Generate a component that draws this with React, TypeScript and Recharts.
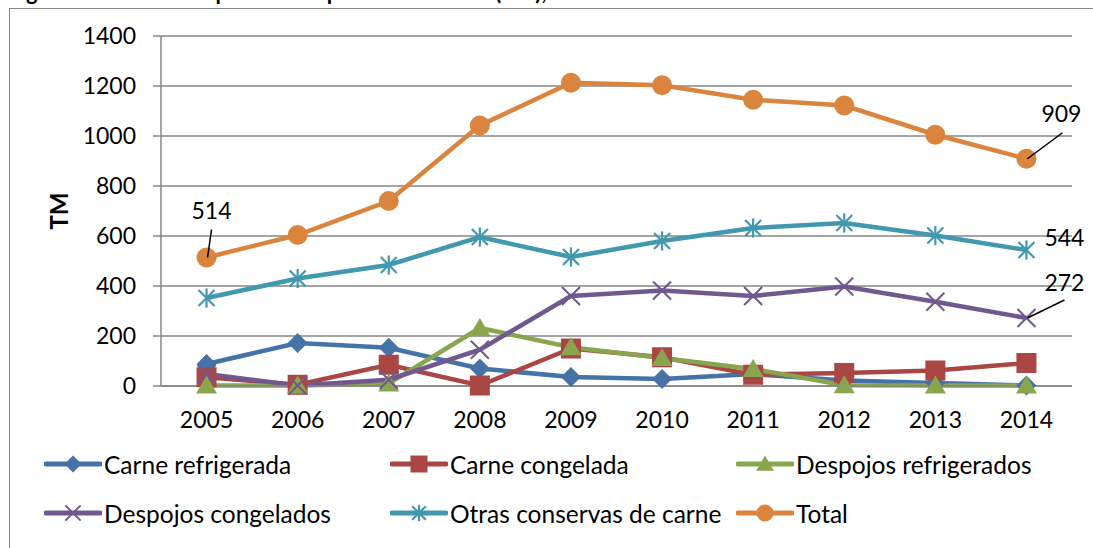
import React from 'react';
import { LineChart, Line, XAxis, YAxis, CartesianGrid, LabelList } from 'recharts';

const years = ['2005', '2006', '2007', '2008', '2009', '2010', '2011', '2012', '2013', '2014'];
const yTicks = [0, 200, 400, 600, 800, 1000, 1200, 1400];

const carneRefrigerada = [88, 172, 153, 70, 36, 28, 48, 22, 12, 2];
const carneCongelada = [35, 5, 85, 2, 150, 115, 45, 52, 62, 92];
const despojosRefrigerados = [2, 2, 10, 232, 155, 112, 68, 3, 2, 2];
const despojosCongelados = [48, 2, 25, 145, 360, 382, 360, 398, 337, 272];
const otrasConservas = [352, 430, 484, 596, 516, 580, 632, 652, 602, 544];
const total = [514, 604, 740, 1042, 1213, 1203, 1145, 1122, 1005, 909];

const FONT = 'Lato, "Open Sans", sans-serif';
const GRID = '#868686';

const data = years.map((y, i) => ({
  idx: i,
  year: y,
  cr: carneRefrigerada[i],
  cc: carneCongelada[i],
  dr: despojosRefrigerados[i],
  dc: despojosCongelados[i],
  oc: otrasConservas[i],
  tot: total[i],
}));

const boundaryTicks = [...years.map((_, i) => i - 0.5), years.length - 0.5];
const centerTicks = years.map((_, i) => i);

type MarkerKind = 'diamond' | 'square' | 'triangle' | 'x' | 'star' | 'circle';

function Marker({ kind, cx, cy, color, s = 1 }: { kind: MarkerKind; cx: number; cy: number; color: string; s?: number }) {
  if (cx == null || cy == null || isNaN(cx) || isNaN(cy)) return null;
  const r = 10 * s;
  switch (kind) {
    case 'diamond':
      return <polygon points={`${cx},${cy - r} ${cx + r},${cy} ${cx},${cy + r} ${cx - r},${cy}`} fill={color} />;
    case 'square':
      return <rect x={cx - r} y={cy - r} width={2 * r} height={2 * r} fill={color} />;
    case 'triangle':
      return <polygon points={`${cx},${cy - r} ${cx + r * 1.05},${cy + r * 0.8} ${cx - r * 1.05},${cy + r * 0.8}`} fill={color} />;
    case 'x': {
      const d = 9 * s;
      return (
        <g stroke={color} strokeWidth={2}>
          <line x1={cx - d} y1={cy - d} x2={cx + d} y2={cy + d} />
          <line x1={cx - d} y1={cy + d} x2={cx + d} y2={cy - d} />
        </g>
      );
    }
    case 'star': {
      const d = 8 * s;
      return (
        <g stroke={color} strokeWidth={2.2}>
          <line x1={cx - d} y1={cy - d} x2={cx + d} y2={cy + d} />
          <line x1={cx - d} y1={cy + d} x2={cx + d} y2={cy - d} />
          <line x1={cx} y1={cy - d * 1.2} x2={cx} y2={cy + d * 1.2} />
        </g>
      );
    }
    case 'circle':
      return <circle cx={cx} cy={cy} r={r} fill={color} />;
  }
  return null;
}

const series: { key: string; name: string; color: string; marker: MarkerKind }[] = [
  { key: 'cr', name: 'Carne refrigerada', color: '#4572A7', marker: 'diamond' },
  { key: 'cc', name: 'Carne congelada', color: '#AA4643', marker: 'square' },
  { key: 'dr', name: 'Despojos refrigerados', color: '#89A54E', marker: 'triangle' },
  { key: 'dc', name: 'Despojos congelados', color: '#71588F', marker: 'x' },
  { key: 'oc', name: 'Otras conservas de carne', color: '#4198AF', marker: 'star' },
  { key: 'tot', name: 'Total', color: '#DB843D', marker: 'circle' },
];

// data labels: which series/index, text offset and optional leader line (style only)
const annotations: Record<string, { index: number; dx: number; dy: number; leader?: [number, number] }[]> = {
  tot: [
    { index: 0, dx: 5, dy: -48, leader: [5, -28] },
    { index: 9, dx: 35, dy: -46, leader: [36, -26] },
  ],
  oc: [{ index: 9, dx: 38, dy: -13 }],
  dc: [{ index: 9, dx: 38, dy: -36, leader: [38, -18] }],
};

function makeLabel(key: string) {
  return (props: any) => {
    const { x, y, index, value } = props;
    const a = (annotations[key] || []).find((e) => e.index === index);
    if (!a) return null;
    return (
      <g key={`lab-${key}-${index}`}>
        {a.leader && (
          <line x1={x + 1} y1={y} x2={x + a.leader[0]} y2={y + a.leader[1]} stroke="#000" strokeWidth={1.5} />
        )}
        <text
          x={x + a.dx}
          y={y + a.dy}
          textAnchor="middle"
          dominantBaseline="central"
          fontFamily={FONT}
          fontSize={23}
          fill="#000"
        >
          {value}
        </text>
      </g>
    );
  };
}

function LegendItem({ s, left, top }: { s: (typeof series)[number]; left: number; top: number }) {
  return (
    <div style={{ position: 'absolute', left, top: top - 15, height: 30, display: 'flex', alignItems: 'center', whiteSpace: 'nowrap' }}>
      <svg width={58} height={30} style={{ display: 'block' }}>
        <line x1={2} y1={15} x2={56} y2={15} stroke={s.color} strokeWidth={5} strokeLinecap="round" />
        <Marker kind={s.marker} cx={29} cy={15} color={s.color} s={0.85} />
      </svg>
      <span style={{ fontFamily: FONT, fontSize: 24.5, color: '#000', marginLeft: 2 }}>{s.name}</span>
    </div>
  );
}

const legendCols = [44, 390, 736];
const legendRows = [464, 513];

export default function App() {
  return (
    <div style={{ position: 'absolute', left: 0, top: 0, width: 1093, height: 548, background: '#fff', overflow: 'hidden' }}>
      <div
        style={{
          position: 'absolute',
          left: 8,
          top: -22,
          fontFamily: FONT,
          fontWeight: 'bold',
          fontSize: 22,
          whiteSpace: 'nowrap',
          color: '#000',
        }}
      >
        Figura 3. Cantidad importada de productos de res (TM), años 2005-2014
      </div>
      <div
        style={{
          position: 'absolute',
          left: 9,
          top: 8,
          width: 1100,
          height: 560,
          borderTop: `1px solid ${GRID}`,
          borderLeft: `1px solid ${GRID}`,
        }}
      />
      <div style={{ position: 'absolute', left: 0, top: 0 }}>
        <LineChart width={1093} height={548} data={data} margin={{ top: 36, right: 21, bottom: 112, left: 0 }}>
          <CartesianGrid vertical={false} stroke={GRID} strokeWidth={1.5} />
          <XAxis
            xAxisId="grid"
            dataKey="idx"
            type="number"
            domain={[-0.5, years.length - 0.5]}
            ticks={boundaryTicks}
            interval={0}
            tick={false}
            tickSize={7}
            height={10}
            axisLine={{ stroke: GRID, strokeWidth: 1.5 }}
            tickLine={{ stroke: GRID, strokeWidth: 1.5 }}
            allowDataOverflow
          />
          <XAxis
            xAxisId="labels"
            dataKey="idx"
            type="number"
            domain={[-0.5, years.length - 0.5]}
            ticks={centerTicks}
            interval={0}
            tickFormatter={(v: number) => years[v] ?? ''}
            axisLine={false}
            tickLine={false}
            tickSize={0}
            tickMargin={16}
            height={40}
            tick={{ fill: '#000', fontSize: 23, fontFamily: FONT }}
            allowDataOverflow
          />
          <YAxis
            width={161}
            domain={[0, 1400]}
            ticks={yTicks}
            interval={0}
            tickSize={8}
            tickMargin={17}
            axisLine={{ stroke: GRID, strokeWidth: 1.5 }}
            tickLine={{ stroke: GRID, strokeWidth: 1.5 }}
            tick={{ fill: '#000', fontSize: 23, fontFamily: FONT }}
            label={{
              content: (p: any) => {
                const vb = p.viewBox || { x: 0, y: 36, width: 161, height: 350 };
                const cx = vb.x + 58;
                const cy = vb.y + vb.height / 2;
                return (
                  <text
                    x={cx}
                    y={cy}
                    transform={`rotate(-90, ${cx}, ${cy})`}
                    textAnchor="middle"
                    dominantBaseline="central"
                    fontFamily={FONT}
                    fontWeight="bold"
                    fontSize={24}
                    fill="#000"
                  >
                    TM
                  </text>
                );
              },
            }}
          />
          {series.map((s) => (
            <Line
              key={s.key}
              xAxisId="grid"
              dataKey={s.key}
              name={s.name}
              type="linear"
              stroke={s.color}
              strokeWidth={4.5}
              isAnimationActive={false}
              dot={(p: any) => <Marker key={`${s.key}-${p.index}`} kind={s.marker} cx={p.cx} cy={p.cy} color={s.color} />}
              activeDot={false}
            >
              {annotations[s.key] && <LabelList dataKey={s.key} content={makeLabel(s.key)} />}
            </Line>
          ))}
        </LineChart>
      </div>
      {series.map((s, i) => (
        <LegendItem key={s.key} s={s} left={legendCols[i % 3]} top={legendRows[Math.floor(i / 3)]} />
      ))}
    </div>
  );
}
